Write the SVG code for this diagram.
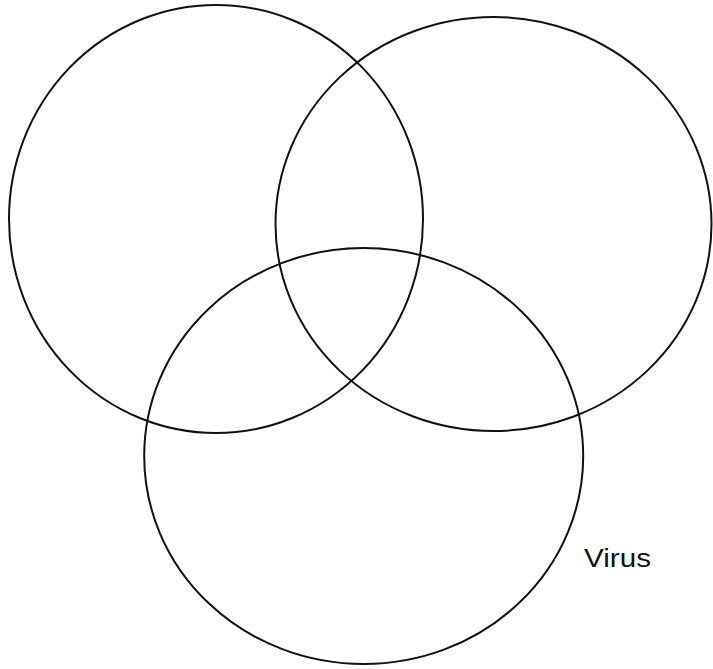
<svg xmlns="http://www.w3.org/2000/svg" width="713" height="669" viewBox="0 0 713 669">
<style>
.c{fill:none;stroke:#111;stroke-width:2}
.t{font-family:"Liberation Sans",Arial,sans-serif;font-size:25px;fill:#111}
</style>
<rect width="713" height="669" fill="#fff"/>
<g id="set-a"><ellipse class="c" cx="216" cy="219" rx="207" ry="214"/></g>
<g id="set-b"><ellipse class="c" cx="493.5" cy="224" rx="218" ry="207"/></g>
<g id="set-c"><ellipse class="c" cx="363.7" cy="456" rx="219.5" ry="208"/><text class="t" x="584" y="567" textLength="67" lengthAdjust="spacingAndGlyphs">Virus</text></g>
</svg>
